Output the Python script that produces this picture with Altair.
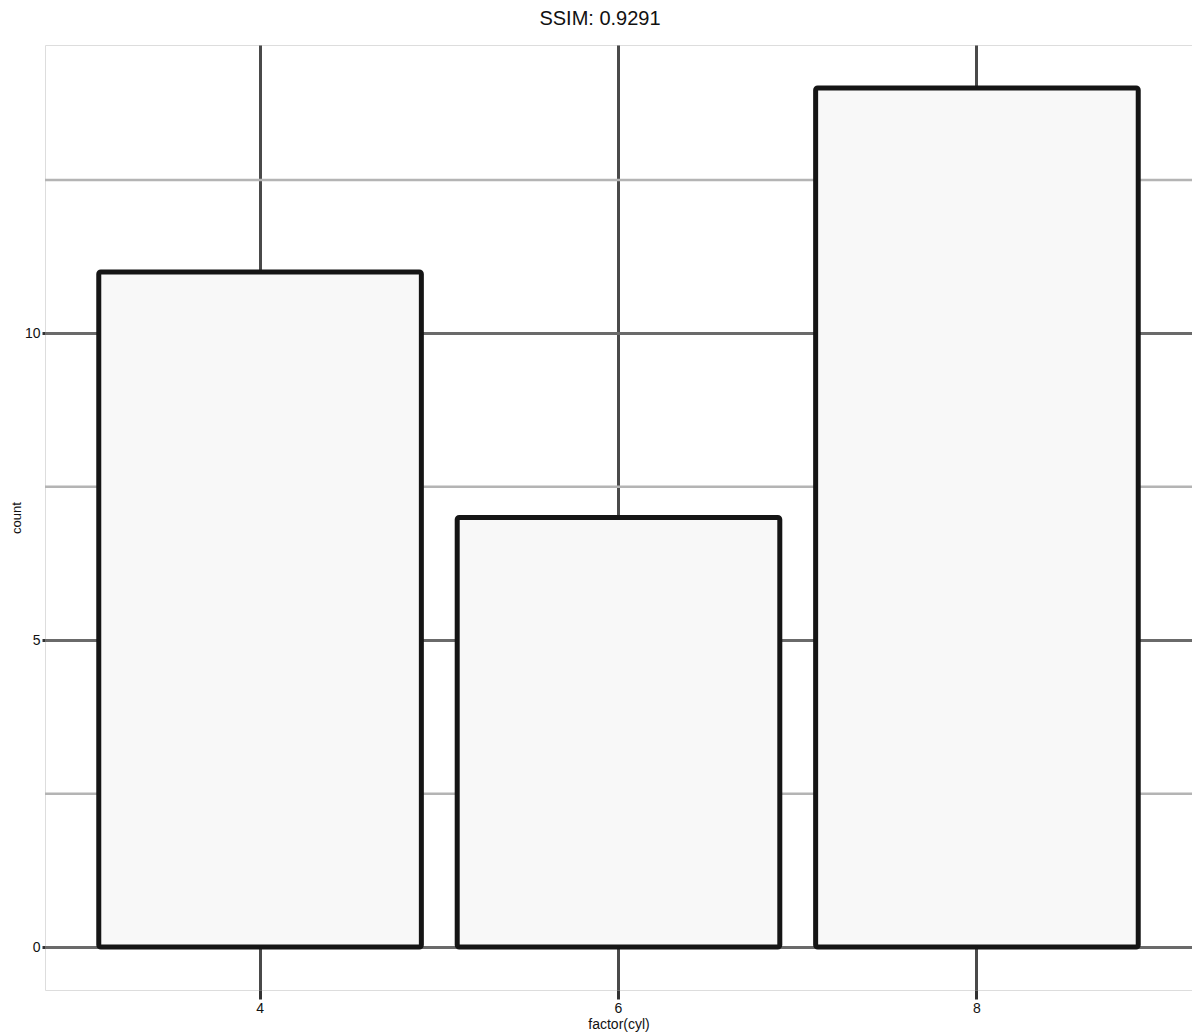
import altair as alt
import pandas as pd

cyl = ["4", "6", "8"]
counts = [11, 7, 14]
major_y = [0, 5, 10]
minor_y = [2.5, 7.5, 12.5]

bars_df = pd.DataFrame({"cyl": cyl, "count": counts})
minor_df = pd.DataFrame({"v": minor_y})
title_df = pd.DataFrame({"t": ["SSIM: 0.9291"]})

yscale = alt.Scale(domain=[-0.7, 14.7], nice=False, zero=False)

minor = alt.Chart(minor_df).mark_rule(color="#b4b4b4", strokeWidth=2.5).encode(
    y=alt.Y("v:Q", scale=yscale)
)

bars = alt.Chart(bars_df).mark_bar(
    fill="#f8f8f8", stroke="#151515", strokeWidth=5, cornerRadius=2
).encode(
    x=alt.X(
        "cyl:N",
        sort=cyl,
        scale=alt.Scale(paddingInner=0.1, paddingOuter=0.15),
        axis=alt.Axis(
            title="factor(cyl)", labelAngle=0, grid=True, gridColor="#4a4a4a",
            gridWidth=3, bandPosition=0.5, domain=False,
            tickColor="#333333", tickWidth=3, tickSize=9, labelPadding=2,
            labelFontSize=14, labelColor="#111111", titleFontSize=14,
            titleFontWeight="normal", titleColor="#111111", titlePadding=2,
            labelFont="Liberation Sans", titleFont="Liberation Sans",
        ),
    ),
    y=alt.Y(
        "count:Q",
        scale=yscale,
        axis=alt.Axis(
            title="count", values=major_y, format="d", grid=True,
            gridColor="#6a6a6a", gridWidth=3, domain=False,
            tickColor="#333333", tickWidth=3, tickSize=3, labelPadding=2,
            labelFontSize=14, labelColor="#111111", titleFontSize=13,
            titleFontWeight="normal", titleColor="#111111", titlePadding=1,
            labelFont="Liberation Sans", titleFont="Liberation Sans",
        ),
    ),
    y2=alt.datum(0),
)

title = alt.Chart(title_df).mark_text(
    fontSize=20, font="Liberation Sans", color="#111111", baseline="middle"
).encode(
    text="t:N", x=alt.value(555), y=alt.value(-26)
)

chart = alt.layer(minor, bars, title).properties(
    width=1147,
    height=945,
    autosize=alt.AutoSizeParams(type="none"),
    padding={"left": 37, "top": 37, "right": 0, "bottom": 44},
).configure_view(
    stroke="#4a4a4a", strokeWidth=2.5, fill="#fdfdfd"
).configure(background="white")

chart.save("out.html", embed_options={"renderer": "svg", "actions": False})
